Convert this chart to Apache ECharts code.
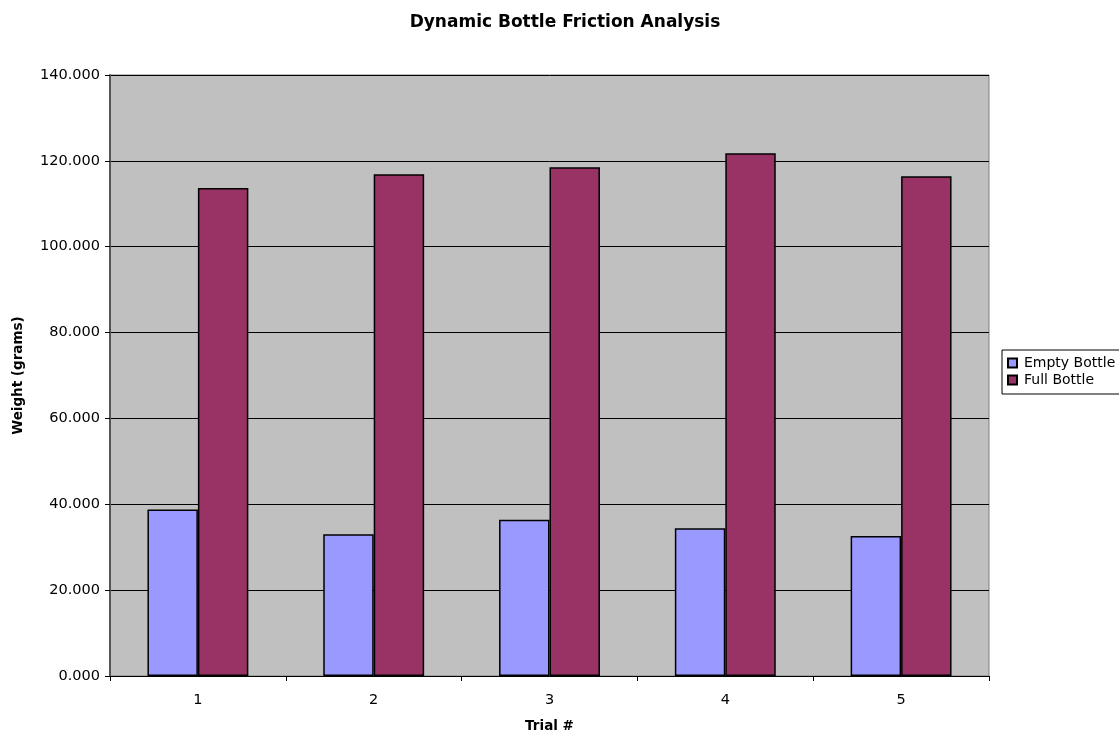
<!DOCTYPE html>
<html>
<head>
<meta charset="utf-8">
<title>Dynamic Bottle Friction Analysis</title>
<script src="https://cdn.jsdelivr.net/npm/echarts@6/dist/echarts.min.js"></script>
<style>
  html, body { margin: 0; padding: 0; background: #ffffff; }
  #chart { width: 1119px; height: 738px; }
</style>
</head>
<body>
<div id="chart"></div>
<script>
// Trial numbers and measured weights (grams)
const trials = ['1', '2', '3', '4', '5'];
const emptyBottle = [38.8, 33.0, 36.4, 34.4, 32.6];
const fullBottle = [113.7, 116.9, 118.5, 121.8, 116.4];

const FONT = 'DejaVu Sans, Verdana, sans-serif';

const chart = echarts.init(document.getElementById('chart'), null, { renderer: 'canvas' });

chart.setOption({
  backgroundColor: '#ffffff',
  animation: false,
  title: {
    text: 'Dynamic Bottle Friction Analysis',
    left: 560,
    textAlign: 'center',
    top: 9,
    textStyle: { fontFamily: FONT, fontSize: 17, fontWeight: 'bold', color: '#000000' }
  },
  legend: {
    orient: 'vertical',
    left: 1002,
    top: 350,
    padding: [6, 12, 7, 5],
    itemGap: 3,
    itemWidth: 9,
    itemHeight: 9,
    icon: 'rect',
    borderColor: '#000000',
    borderWidth: 1,
    backgroundColor: '#ffffff',
    textStyle: { fontFamily: FONT, fontSize: 14, color: '#000000', padding: [0, 0, 0, 2] },
    data: ['Empty Bottle', 'Full Bottle']
  },
  grid: {
    left: 110,
    right: 130,
    top: 75,
    bottom: 62,
    show: true,
    backgroundColor: '#c0c0c0',
    borderColor: '#808080',
    borderWidth: 1
  },
  xAxis: {
    type: 'category',
    data: trials,
    name: 'Trial #',
    nameLocation: 'middle',
    nameGap: 43,
    nameTextStyle: { fontFamily: FONT, fontSize: 13.5, fontWeight: 'bold', color: '#000000' },
    axisLine: { show: true, lineStyle: { color: '#000000', width: 1 } },
    axisTick: { show: true, alignWithLabel: false, length: 5, lineStyle: { color: '#000000' } },
    axisLabel: { fontFamily: FONT, fontSize: 14.5, color: '#000000', margin: 17 },
    splitLine: { show: false }
  },
  yAxis: {
    type: 'value',
    min: 0,
    max: 140,
    interval: 20,
    name: 'Weight (grams)',
    nameLocation: 'middle',
    nameRotate: 90,
    nameGap: 85,
    nameTextStyle: { fontFamily: FONT, fontSize: 13.5, fontWeight: 'bold', color: '#000000' },
    axisLine: { show: true, lineStyle: { color: '#555555', width: 2 } },
    axisTick: { show: true, length: 5, lineStyle: { color: '#000000' } },
    axisLabel: {
      fontFamily: FONT,
      fontSize: 14.5,
      color: '#000000',
      margin: 10,
      formatter: v => v.toFixed(3)
    },
    splitLine: { show: true, lineStyle: { color: '#000000', width: 1 } }
  },
  series: [
    {
      name: 'Empty Bottle',
      type: 'bar',
      data: emptyBottle,
      barGap: '0%',
      barCategoryGap: '42.6%',
      itemStyle: { color: '#9999ff', borderColor: '#000000', borderWidth: 1.5 }
    },
    {
      name: 'Full Bottle',
      type: 'bar',
      data: fullBottle,
      barGap: '0%',
      barCategoryGap: '42.6%',
      itemStyle: { color: '#993366', borderColor: '#000000', borderWidth: 1.5 }
    }
  ]
});
</script>
</body>
</html>
